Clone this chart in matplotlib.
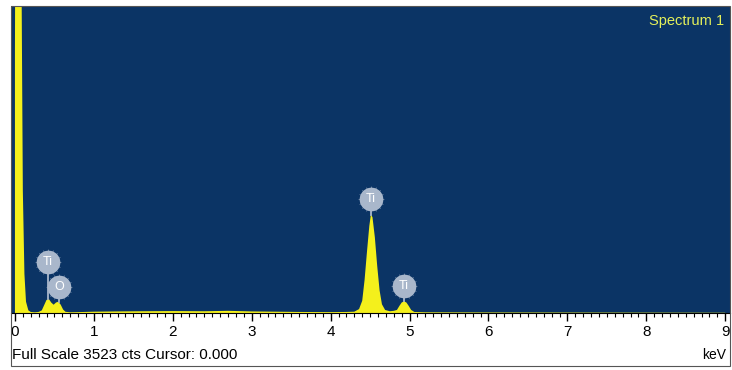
import matplotlib
matplotlib.use("Agg")
import matplotlib.pyplot as plt
from matplotlib.patches import Rectangle
import numpy as np

# spectrum (energy in keV, counts)
energy = [0.00, 0.01, 0.03, 0.05, 0.07, 0.085, 0.10, 0.12, 0.14, 0.17, 0.20,
          0.25, 0.30, 0.34, 0.37, 0.40, 0.43, 0.46, 0.49, 0.52, 0.55, 0.58, 0.61, 0.64, 0.70,
          0.80, 1.00, 1.30, 1.60, 2.00, 2.40, 2.70, 3.00, 3.30, 3.60, 4.00, 4.20,
          4.30, 4.36, 4.40, 4.43, 4.46, 4.49, 4.51, 4.53, 4.56, 4.59, 4.62, 4.65, 4.69, 4.75, 4.80,
          4.84, 4.87, 4.90, 4.93, 4.96, 4.99, 5.02, 5.06, 5.20, 6.00, 7.00, 8.00, 9.00]
counts = [3000, 6000, 9000, 8000, 5000, 3600, 1400, 450, 130, 30, 12,
          8, 12, 30, 90, 150, 160, 120, 95, 120, 130, 95, 40, 14, 8,
          10, 15, 18, 20, 22, 20, 25, 18, 15, 12, 10, 12,
          15, 45, 140, 380, 700, 1000, 1130, 1100, 870, 540, 260, 100, 35, 20, 25,
          35, 80, 120, 135, 120, 80, 35, 12, 8, 6, 5, 4, 3]

full_scale = 3523
ticks = [0, 1, 2, 3, 4, 5, 6, 7, 8, 9]

# element markers: label, energy of the peak, badge x
line_names = ["Ti", "O", "Ti", "Ti"]
line_energy = [0.43, 0.55, 4.51, 4.93]
badge_x = [0.42, 0.56, 4.51, 4.93]
badge_lift = [37, 15, 16, 15]   # pixels above the peak

W, H = 732, 370
fig = plt.figure(figsize=(W / 100, H / 100), dpi=100)
fig.patch.set_facecolor("white")
plt.rcParams["font.family"] = ["Liberation Sans", "DejaVu Sans"]

navy = "#0b3465"
yellow = "#f4f01c"
badge = "#a9b7cb"

ax = fig.add_axes([11 / W, 1 - 313 / H, 719 / W, 307 / H])
ax.set_facecolor(navy)
ax.fill_between(energy, counts, 0, color=yellow, lw=0)
ax.set_xlim(-0.05, 9.06)
ax.set_ylim(0, full_scale)
ax.set_yticks([])
ax.set_xticks(ticks)
ax.set_xticks(np.arange(0, 9.01, 0.1), minor=True)
ax.tick_params(axis="x", which="major", direction="out", length=6, width=1,
               color="black", pad=3, labelsize=11)
ax.tick_params(axis="x", which="minor", direction="out", length=3, width=0.8,
               color="black")
for s in ["top", "left", "right"]:
    ax.spines[s].set_visible(False)
ax.spines["bottom"].set_color("black")
ax.spines["bottom"].set_linewidth(0.8)

# badges with stems
px_per_count = 307 / full_scale
for name, e, bx, lift in zip(line_names, line_energy, badge_x, badge_lift):
    top = np.interp(e, energy, counts)
    by = top + lift / px_per_count
    ax.plot([bx, bx], [top, by], color=badge, lw=1.3, zorder=3)
    ax.scatter([bx], [by], s=380, marker=(16, 1, 0), color=badge, zorder=4, lw=0)
    ax.scatter([bx], [by], s=290, marker="o", color=badge, zorder=4, lw=0)
    ax.text(bx, by, name, color="white", fontsize=9, ha="center", va="center", zorder=5)

ax.text(0.992, 0.975, "Spectrum 1", transform=ax.transAxes, color="#e4f05a",
        fontsize=10.5, ha="right", va="top")

fig.text(12 / W, 1 - 355 / H, "Full Scale 3523 cts Cursor: 0.000", fontsize=11,
         ha="left", va="center")
fig.text(726 / W, 1 - 355 / H, "keV", fontsize=10, ha="right", va="center")

fig.patches.append(Rectangle((11 / W, 1 - 366 / H), 719 / W, 360 / H,
                             transform=fig.transFigure, fill=False,
                             edgecolor="#555555", lw=0.8))

fig.savefig("out.png", dpi=100)
